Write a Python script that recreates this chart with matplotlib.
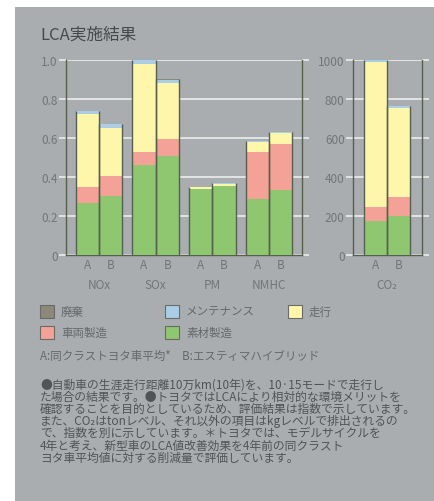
import matplotlib
matplotlib.use("Agg")
import matplotlib.pyplot as plt
from matplotlib.patches import Rectangle
import numpy as np

plt.rcParams['font.family'] = ['Noto Sans CJK JP', 'DejaVu Sans']

# ---- data ----
categories = ["NOx", "SOx", "PM", "NMHC"]
variants = ["A", "B"]
# left chart (index), order: NOx A, NOx B, SOx A, SOx B, PM A, PM B, NMHC A, NMHC B
material = [0.267, 0.304, 0.46, 0.51, 0.34, 0.355, 0.287, 0.333]
vehicle = [0.080, 0.100, 0.067, 0.085, 0.0, 0.0, 0.240, 0.237]
driving = [0.376, 0.247, 0.455, 0.285, 0.007, 0.010, 0.053, 0.055]
maintenance = [0.017, 0.020, 0.018, 0.020, 0.003, 0.003, 0.005, 0.005]
disposal = [0.001, 0.001, 0.001, 0.001, 0.001, 0.001, 0.001, 0.001]

co2_category = "CO₂"
co2_material = [174, 198]
co2_vehicle = [74, 98]
co2_driving = [740, 456]
co2_maintenance = [11, 13]
co2_disposal = [1, 1]

left_ticks = [0, 0.2, 0.4, 0.6, 0.8, 1.0]
left_ticklabels = ["0", "0.2", "0.4", "0.6", "0.8", "1.0"]
right_ticks = [0, 200, 400, 600, 800, 1000]
right_ticklabels = ["0", "200", "400", "600", "800", "1000"]

legend_labels = ["廃棄", "メンテナンス", "走行", "車両製造", "素材製造"]
title = "LCA実施結果"
note_ab = "A:同クラストヨタ車平均*　B:エスティマハイブリッド"
paragraph = [
    "●自動車の生涯走行距離10万km(10年)を、10·15モードで走行し",
    "た場合の結果です。●トヨタではLCAにより相対的な環境メリットを",
    "確認することを目的としているため、評価結果は指数で示しています。",
    "また、CO₂はtonレベル、それ以外の項目はkgレベルで排出されるの",
    "で、指数を別に示しています。＊トヨタでは、モデルサイクルを",
    "4年と考え、新型車のLCA値改善効果を4年前の同クラスト",
    "ヨタ車平均値に対する削減量で評価しています。",
]

# ---- styles ----
W, H = 434, 502
BG = "#a9adaf"
C_GREEN = "#8fc670"
C_RED = "#f4a297"
C_YEL = "#fdf6ab"
C_BLUE = "#abcde6"
C_GRAY = "#8c887a"
EDGE = "#55604f"
TXT = "#727678"
DARK = "#474a4c"

fig = plt.figure(figsize=(W / 100, H / 100), dpi=100, facecolor="white")
fig.patches.append(Rectangle((15 / W, 0), 1 - 15 / W, (H - 8) / H,
                             transform=fig.transFigure, facecolor=BG,
                             edgecolor="none", zorder=-10))

def fx(px):
    return px / W

def fy(py):
    return 1 - py / H

bar_w = 0.41

def style_axes(ax, ticks, labels):
    ax.set_facecolor(BG)
    ax.patch.set_alpha(0)
    ax.spines["top"].set_visible(False)
    for s in ["left", "right", "bottom"]:
        ax.spines[s].set_color(EDGE)
        ax.spines[s].set_linewidth(1.0)
    ax.set_yticks(ticks)
    ax.set_yticklabels(labels)
    ax.tick_params(axis="y", which="both", direction="out", length=5, width=1.3,
                   color="#e6e7e7", labelcolor=TXT, labelsize=8.5, pad=1,
                   right=True)
    ax.tick_params(axis="x", length=0, labelcolor=TXT, labelsize=8.5, pad=2)
    ax.yaxis.grid(True, color="#e8e9e9", linewidth=1.3)
    ax.set_axisbelow(True)

def draw_stack(ax, x, layers, colors):
    bottom = np.zeros(len(x))
    for vals, c in zip(layers, colors):
        ax.bar(x, vals, width=bar_w, bottom=bottom, color=c, edgecolor="none",
               linewidth=0, zorder=3)
        bottom = bottom + np.array(vals)
    ax.vlines(np.concatenate([x - bar_w / 2, x + bar_w / 2]), 0,
              np.concatenate([bottom, bottom]), color=EDGE, linewidth=1.0,
              zorder=4)

colors = [C_GREEN, C_RED, C_YEL, C_BLUE, C_GRAY]

# left axes
axL = fig.add_axes([fx(66), fy(256), fx(302) - fx(66), (256 - 61) / H])
xs = []
for i in range(len(categories)):
    xs += [i - bar_w / 2, i + bar_w / 2]
xs = np.array(xs)
draw_stack(axL, xs, [material, vehicle, driving, maintenance, disposal], colors)
axL.set_xlim(-0.58, len(categories) - 1 + 0.58)
axL.set_ylim(0, 1.0)
style_axes(axL, left_ticks, left_ticklabels)
axL.set_xticks(xs)
axL.set_xticklabels(variants * len(categories))
for i, c in enumerate(categories):
    axL.text(i, -0.15, c, ha="center", va="center", color=TXT, fontsize=8.5,
             clip_on=False)

# right axes
axR = fig.add_axes([fx(353), fy(256), fx(422) - fx(353), (256 - 61) / H])
xr = np.array([-bar_w / 2, bar_w / 2])
draw_stack(axR, xr, [co2_material, co2_vehicle, co2_driving, co2_maintenance,
                     co2_disposal], colors)
axR.set_xlim(-0.6, 0.62)
axR.set_ylim(0, 1000)
style_axes(axR, right_ticks, right_ticklabels)
axR.set_xticks(xr)
axR.set_xticklabels(variants)
axR.text(0, -150, co2_category, ha="center", va="center", color=TXT,
         fontsize=8.5, clip_on=False)

# title
fig.text(fx(40), fy(35), title, ha="left", va="center", color=DARK,
         fontsize=12)

# legend
leg_pos = [(40, 312), (165, 312), (288, 312), (40, 333), (165, 333)]
leg_colors = [C_GRAY, C_BLUE, C_YEL, C_RED, C_GREEN]
for (px, py), lab, c in zip(leg_pos, legend_labels, leg_colors):
    fig.patches.append(Rectangle((fx(px), fy(py + 6.5)), 14 / W, 13 / H,
                                 transform=fig.transFigure, facecolor=c,
                                 edgecolor="#6a6a6a", linewidth=0.8))
    fig.text(fx(px + 21), fy(py), lab, ha="left", va="center", color="#66696b",
             fontsize=8.3)

fig.text(fx(40), fy(356), note_ab, ha="left", va="center", color="#66696b",
         fontsize=8.3)

line_y = [385, 397.5, 409.5, 421.5, 433.5, 446, 458]
for ly, line in zip(line_y, paragraph):
    fig.text(fx(40), fy(ly), line, ha="left", va="center", color="#505456",
             fontsize=8.5)

fig.savefig("out.png", dpi=100, facecolor="white")
